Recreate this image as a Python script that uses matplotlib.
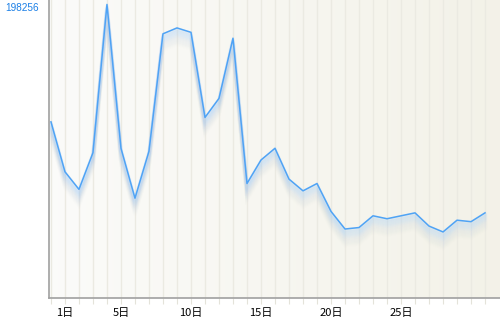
import numpy as np
import matplotlib
matplotlib.use("Agg")
import matplotlib.pyplot as plt
import matplotlib.transforms as mtransforms

plt.rcParams['font.family'] = ['Noto Sans CJK JP', 'DejaVu Sans']

# daily values
days = list(range(32))
values = [120000, 86000, 74000, 99000, 200000, 102000, 68000, 100000,
          180000, 184000, 181000, 123000, 136000, 177000, 78000, 94000,
          102000, 81000, 73000, 78000, 59000, 47000, 48000, 56000,
          54000, 56000, 58000, 49000, 45000, 53000, 52000, 58000]
tick_days = [1, 5, 10, 15, 20, 25]
tick_labels = ['1日', '5日', '10日', '15日', '20日', '25日']
y_label_value = 198256

fig = plt.figure(figsize=(5, 3.17), dpi=100)
ax = fig.add_axes([49 / 500, 19 / 317, 451 / 500, 298 / 317])

# background gradient, white to beige
grad = np.linspace(0, 1, 256).reshape(1, -1)
c0 = np.array([0.985, 0.985, 0.978])
c1 = np.array([0.953, 0.948, 0.910])
img = c0 + (c1 - c0) * grad[..., None]
ax.imshow(img, extent=[0, 1, 0, 1], transform=ax.transAxes, aspect='auto', zorder=0)

# light shadow under the line
for k in range(1, 18):
    tr = mtransforms.offset_copy(ax.transData, fig=fig, x=0, y=-k * 0.7, units='points')
    col = '#a9d0f5' if k < 9 else '#c4d4e4'
    ax.plot(days, values, color=col, lw=2.5, alpha=0.14 * (1 - k / 19), transform=tr, zorder=2,
            solid_joinstyle='miter')
ax.plot(days, values, color='#4fa3f5', lw=1.1, zorder=3)

ax.set_xlim(-0.14, 32.07)
ax.set_ylim(0, y_label_value * 298 / 291)

for d in days:
    ax.axvline(d, color='#ebeae2', lw=1, zorder=1)

ax.set_xticks(days)
ax.set_xticklabels([tick_labels[tick_days.index(d)] if d in tick_days else '' for d in days],
                   fontsize=8)
ax.tick_params(axis='x', length=4, color='#e4e3da', pad=3.5)
ax.set_yticks([y_label_value])
ax.set_yticklabels([str(y_label_value)], color='#1a7fe6', fontsize=7.2, family='Liberation Sans')
ax.tick_params(axis='y', length=0, pad=7)

ax.spines['top'].set_visible(False)
ax.spines['right'].set_visible(False)
ax.spines['left'].set_color('#a0a0a0')
ax.spines['bottom'].set_color('#a0a0a0')
ax.spines['left'].set_linewidth(1.2)
ax.spines['bottom'].set_linewidth(1.2)

fig.savefig('out.png', dpi=100)
